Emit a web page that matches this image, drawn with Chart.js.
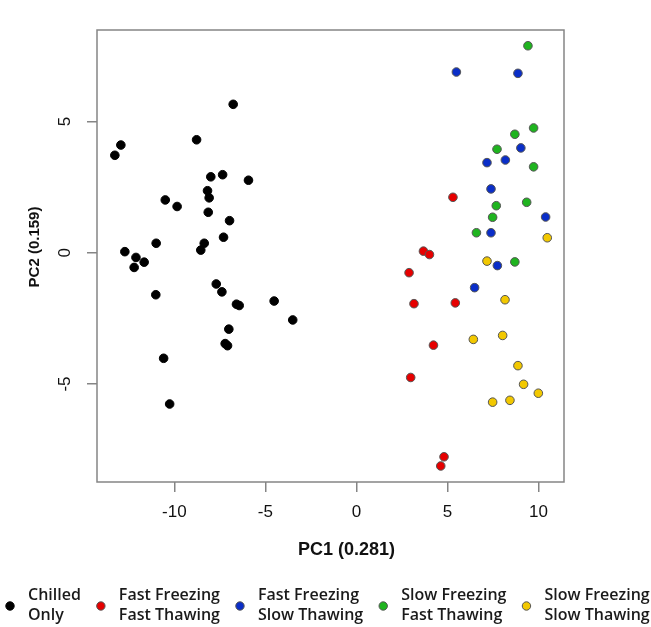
<!DOCTYPE html>
<html lang="en">
<head>
<meta charset="UTF-8">
<title>PCA scores</title>
<script src="https://cdn.jsdelivr.net/npm/chart.js"></script>
<style>
    html, body { margin: 0; padding: 0; background: #fff; }
    canvas { display: block; }
</style>
</head>
<body>
<canvas id="pca" width="651" height="627"></canvas>
<script>
    // Legend text (two lines each) and colours of the five groups
    const groupNames = [
        ['Chilled', 'Only'],
        ['Fast Freezing', 'Fast Thawing'],
        ['Fast Freezing', 'Slow Thawing'],
        ['Slow Freezing', 'Fast Thawing'],
        ['Slow Freezing', 'Slow Thawing']
    ];
    const groupColors = ['#000000', '#e60000', '#0a2ec8', '#1fb41f', '#f2c800'];

    // PC scores
    const chilledPC1 = [-6.77, -8.78, -12.94, -13.27, -8.00, -7.35, -5.93, -8.18, -8.09, -10.50, -9.85,
        -8.14, -6.97, -7.30, -11.00, -8.36, -8.55, -12.72, -12.11, -11.66, -12.21, -7.70, -7.39,
        -11.02, -6.59, -6.44, -4.52, -3.50, -7.01, -7.21, -7.08, -10.59, -10.26];
    const chilledPC2 = [5.65, 4.30, 4.10, 3.71, 2.89, 2.97, 2.76, 2.36, 2.09, 2.01, 1.76,
        1.54, 1.22, 0.59, 0.36, 0.36, 0.10, 0.04, -0.18, -0.36, -0.56, -1.19, -1.49,
        -1.60, -1.96, -2.01, -1.84, -2.56, -2.91, -3.46, -3.54, -4.02, -5.76];

    const ffftPC1 = [5.30, 3.68, 4.01, 2.89, 3.16, 5.43, 4.23, 2.98, 4.81, 4.63];
    const ffftPC2 = [2.11, 0.06, -0.07, -0.76, -1.94, -1.91, -3.52, -4.75, -7.77, -8.12];

    const ffstPC1 = [5.49, 8.87, 9.03, 8.18, 7.17, 7.39, 10.39, 7.39, 7.74, 6.49];
    const ffstPC2 = [6.88, 6.83, 3.99, 3.53, 3.43, 2.43, 1.36, 0.76, -0.49, -1.33];

    const sfftPC1 = [9.42, 9.73, 8.70, 7.72, 9.73, 7.68, 9.35, 7.48, 6.59, 8.70];
    const sfftPC2 = [7.88, 4.75, 4.51, 3.94, 3.27, 1.79, 1.92, 1.35, 0.76, -0.35];

    const sfstPC1 = [10.48, 7.17, 8.16, 6.42, 8.03, 8.87, 9.18, 9.99, 7.48, 8.43];
    const sfstPC2 = [0.57, -0.32, -1.79, -3.30, -3.15, -4.30, -5.01, -5.35, -5.69, -5.62];

    const xTicks = [-10, -5, 0, 5, 10];
    const yTicks = [-5, 0, 5];
    const xTitle = 'PC1 (0.281)';
    const yTitle = 'PC2 (0.159)';

    function toPoints(xs, ys) {
        return xs.map((x, i) => ({ x: x, y: ys[i] }));
    }

    const series = [
        toPoints(chilledPC1, chilledPC2),
        toPoints(ffftPC1, ffftPC2),
        toPoints(ffstPC1, ffstPC2),
        toPoints(sfftPC1, sfftPC2),
        toPoints(sfstPC1, sfstPC2)
    ];

    const datasets = series.map((pts, i) => ({
        label: groupNames[i].join(' '),
        data: pts,
        backgroundColor: groupColors[i],
        pointBorderColor: i === 0 ? '#000' : '#555',
        pointBorderWidth: 1,
        pointRadius: 4.3,
        pointHoverRadius: 4.3
    }));

    // box, rotated y labels, axis titles and the bottom legend
    const framePlugin = {
        id: 'frame',
        afterDraw(chart) {
            const ctx = chart.ctx;
            const area = chart.chartArea;
            const yScale = chart.scales.y;
            ctx.save();

            ctx.strokeStyle = '#858585';
            ctx.lineWidth = 1.5;
            ctx.strokeRect(area.left, area.top, area.right - area.left, area.bottom - area.top);

            ctx.fillStyle = '#111';
            ctx.font = '17px "Liberation Sans", Arial, sans-serif';
            ctx.textAlign = 'center';
            ctx.textBaseline = 'middle';
            yTicks.forEach(v => {
                ctx.save();
                ctx.translate(area.left - 32, yScale.getPixelForValue(v));
                ctx.rotate(-Math.PI / 2);
                ctx.fillText(String(v), 0, 0);
                ctx.restore();
            });

            ctx.font = 'bold 18px "Liberation Sans", Arial, sans-serif';
            ctx.fillText(xTitle, (area.left + area.right) / 2 + 16, area.bottom + 68);

            ctx.save();
            ctx.font = 'bold 15px "Liberation Sans", Arial, sans-serif';
            ctx.translate(area.left - 62, (area.top + area.bottom) / 2 - 9);
            ctx.rotate(-Math.PI / 2);
            ctx.fillText(yTitle, 0, 0);
            ctx.restore();

            // legend
            ctx.font = '600 16px "Open Sans", sans-serif';
            ctx.textAlign = 'left';
            let x = 10;
            groupNames.forEach((lines, i) => {
                ctx.beginPath();
                ctx.arc(x, 606, 4.2, 0, Math.PI * 2);
                ctx.fillStyle = groupColors[i];
                ctx.fill();
                ctx.strokeStyle = i === 0 ? '#000' : '#555';
                ctx.lineWidth = 1;
                ctx.stroke();
                ctx.fillStyle = '#1a1a1a';
                ctx.fillText(lines[0], x + 18, 595);
                ctx.fillText(lines[1], x + 18, 615);
                const w = Math.max(ctx.measureText(lines[0]).width, ctx.measureText(lines[1]).width);
                x += 18 + w + 20;
            });
            ctx.restore();
        }
    };

    new Chart(document.getElementById('pca').getContext('2d'), {
        type: 'scatter',
        data: { datasets: datasets },
        options: {
            responsive: false,
            animation: false,
            layout: { padding: { top: 30, right: 87, left: 0, bottom: 0 } },
            plugins: {
                legend: { display: false },
                tooltip: { enabled: false }
            },
            scales: {
                x: {
                    type: 'linear',
                    min: -14.25,
                    max: 11.4,
                    afterBuildTicks: s => { s.ticks = xTicks.map(v => ({ value: v })); },
                    afterFit: s => { s.height = 145; },
                    border: { display: false },
                    grid: { drawOnChartArea: false, tickLength: 10, color: '#858585', lineWidth: 1.5 },
                    ticks: {
                        padding: 10,
                        color: '#111',
                        font: { family: '"Liberation Sans", Arial, sans-serif', size: 17 }
                    }
                },
                y: {
                    type: 'linear',
                    min: -8.73,
                    max: 8.48,
                    afterBuildTicks: s => { s.ticks = yTicks.map(v => ({ value: v })); },
                    afterFit: s => { s.width = 97; },
                    border: { display: false },
                    grid: { drawOnChartArea: false, tickLength: 10, color: '#858585', lineWidth: 1.5 },
                    ticks: { display: false }
                }
            }
        },
        plugins: [framePlugin]
    });
</script>
</body>
</html>
